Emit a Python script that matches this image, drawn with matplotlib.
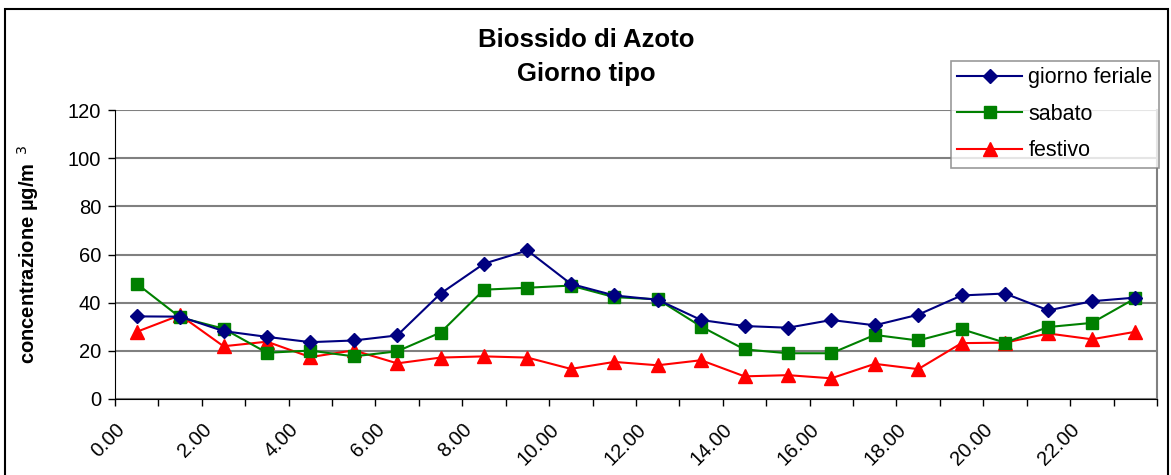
import matplotlib
matplotlib.use("Agg")
import matplotlib.pyplot as plt
from matplotlib.patches import Rectangle

plt.rcParams['font.family'] = ['Liberation Sans', 'DejaVu Sans']

# Data: hourly mean concentration (one value per hour 0..23)
hours = list(range(24))
tick_labels = ["0.00", "2.00", "4.00", "6.00", "8.00", "10.00",
               "12.00", "14.00", "16.00", "18.00", "20.00", "22.00"]
feriale = [34.3, 34.2, 28.2, 25.8, 23.6, 24.3, 26.4, 43.8, 56.2, 61.7, 47.8, 43.0,
           41.2, 32.8, 30.3, 29.6, 32.8, 30.6, 35.0, 43.0, 43.8, 36.8, 40.6, 42.1]
sabato = [47.9, 33.9, 29.2, 19.2, 20.1, 17.7, 19.8, 27.6, 45.4, 46.2, 47.1, 42.3,
          41.4, 30.1, 20.6, 19.0, 19.0, 26.6, 24.3, 29.0, 23.4, 29.9, 31.6, 41.8]
festivo = [27.9, 34.8, 21.9, 23.8, 17.4, 20.2, 14.8, 17.2, 17.7, 17.2, 12.5, 15.4,
           14.0, 16.1, 9.4, 9.9, 8.6, 14.6, 12.4, 23.2, 23.4, 27.2, 24.8, 27.9]

fig = plt.figure(figsize=(11.71, 4.75), dpi=100)
ax = fig.add_axes([0.0982, 0.16, 0.8898, 0.6084])

x = [h + 0.5 for h in hours]
ax.plot(x, feriale, color='#000080', lw=1.5, marker='D', ms=7, label='giorno feriale', zorder=5)
ax.plot(x, sabato, color='#008000', lw=1.5, marker='s', ms=8, label='sabato', zorder=4)
ax.plot(x, festivo, color='#FF0000', lw=1.5, marker='^', ms=9.5, label='festivo', zorder=3)

ax.set_xlim(0, 24)
ax.set_ylim(0, 120)
ax.set_yticks(range(0, 121, 20))
ax.set_xticks(range(0, 25))
ax.set_xticklabels([tick_labels[i // 2] if i % 2 == 0 and i < 24 else "" for i in range(25)],
                   rotation=45, ha='right', va='top', rotation_mode='anchor')
ax.tick_params(axis='both', direction='out', length=5, width=1, labelsize=14.5, color='black')
ax.tick_params(axis='x', pad=10)
ax.tick_params(axis='y', pad=5)

ax.yaxis.grid(True, color='#808080', lw=1.5)
ax.set_axisbelow(True)
ax.spines['top'].set_visible(False)
ax.spines['right'].set_color('#808080')
ax.spines['right'].set_linewidth(1.5)
ax.spines['left'].set_color('black')
ax.spines['bottom'].set_color('black')

ax.set_ylabel("concentrazione µg/m$^{\\ \\ 3}$", fontsize=14.5, fontweight='bold', labelpad=19)

fig.text(0.501, 0.915, "Biossido di Azoto", ha='center', va='center', fontsize=18.5, fontweight='bold')
fig.text(0.501, 0.845, "Giorno tipo", ha='center', va='center', fontsize=18.5, fontweight='bold')

leg = ax.legend(loc='upper left', bbox_to_anchor=(951 / 1171, 1 - 61 / 475),
                bbox_transform=fig.transFigure, fontsize=15.5, frameon=True, fancybox=False,
                edgecolor='#808080', handlelength=3.0, borderpad=0.3, labelspacing=0.72,
                handletextpad=0.3, borderaxespad=0)
leg.get_frame().set_linewidth(1.2)
leg.set_zorder(10)

# outer chart border
fig.patches.append(Rectangle((5 / 1171, -0.05), 1163 / 1171, 1.05 - 9 / 475,
                             transform=fig.transFigure, fill=False, edgecolor='black', lw=1.5))

fig.savefig("out.png", dpi=100)
